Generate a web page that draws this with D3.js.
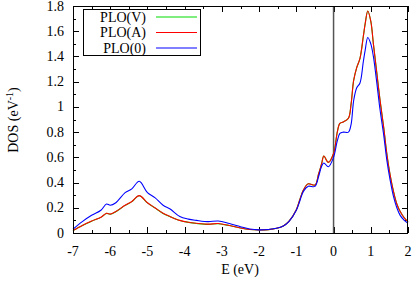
<!DOCTYPE html>
<html><head><meta charset="utf-8">
<script src="https://cdn.jsdelivr.net/npm/d3@7"></script>
<style>body{margin:0;background:#fff}svg{display:block}</style>
</head><body><svg id="c" width="415" height="281" font-family="'Liberation Serif', 'DejaVu Serif', serif"></svg>
<script>
const energy = [-7,-6.75,-6.5,-6.25,-6.1,-6.0,-5.85,-5.6,-5.42,-5.22,-5.0,-4.8,-4.58,-4.39,-4.13,-3.9,-3.68,-3.37,-3.1,-2.8,-2.5,-2.25,-2.0,-1.75,-1.53,-1.35,-1.2,-1.0,-0.9,-0.81,-0.68,-0.5,-0.4,-0.32,-0.26,-0.14,0,0.1,0.17,0.26,0.4,0.47,0.54,0.62,0.71,0.8,0.85,0.92,1.0,1.07,1.15,1.25,1.35,1.43,1.52,1.61,1.7,1.79,1.9,2.0];
const dosA = [0.02,0.06,0.095,0.125,0.156,0.15,0.17,0.22,0.25,0.296,0.24,0.20,0.156,0.13,0.10,0.085,0.077,0.07,0.075,0.06,0.04,0.028,0.024,0.027,0.037,0.056,0.092,0.185,0.27,0.34,0.39,0.38,0.47,0.55,0.61,0.56,0.63,0.80,0.87,0.88,0.91,1.02,1.21,1.31,1.385,1.56,1.66,1.76,1.68,1.50,1.30,1.05,0.83,0.63,0.46,0.33,0.23,0.17,0.12,0.09];
const dosV = [0.019,0.059,0.094,0.124,0.155,0.149,0.169,0.219,0.249,0.295,0.239,0.199,0.155,0.129,0.099,0.084,0.0755,0.0685,0.0735,0.0588,0.039,0.0275,0.024,0.027,0.037,0.056,0.092,0.185,0.27,0.34,0.39,0.38,0.47,0.55,0.61,0.56,0.63,0.80,0.87,0.88,0.91,1.02,1.21,1.31,1.385,1.56,1.66,1.76,1.68,1.50,1.30,1.05,0.83,0.63,0.46,0.33,0.23,0.17,0.12,0.09];
const dos0 = [0.03,0.09,0.14,0.18,0.23,0.22,0.24,0.32,0.35,0.41,0.32,0.28,0.22,0.19,0.13,0.11,0.10,0.09,0.095,0.075,0.05,0.032,0.025,0.028,0.037,0.055,0.09,0.18,0.26,0.33,0.37,0.37,0.45,0.53,0.555,0.525,0.60,0.73,0.79,0.80,0.80,0.86,1.05,1.15,1.19,1.36,1.45,1.55,1.50,1.40,1.22,0.975,0.77,0.58,0.42,0.29,0.20,0.14,0.10,0.077];
const xTicks = [-7,-6,-5,-4,-3,-2,-1,0,1,2];
const yTicks = [0,0.2,0.4,0.6,0.8,1,1.2,1.4,1.6,1.8];
const seriesNames = ["PLO(V)","PLO(A)","PLO(0)"];
const seriesColors = ["#00dd00","#ff0000","#0000ff"];

const svg = d3.select("#c");
const FS = 14;
const L=73,R=408,T=6,B=233;
const x = d3.scaleLinear().domain([-7,2]).range([L,R]);
const y = d3.scaleLinear().domain([0,1.8]).range([B,T]);

const g = svg.append("g").attr("stroke","#000").attr("stroke-width",1);
d3.range(-7,2.001,0.5).forEach(v=>{
  const major = Math.abs(v-Math.round(v))<1e-6;
  const len = major?6:3;
  const px = Math.round(x(v))+0.5;
  g.append("line").attr("x1",px).attr("x2",px).attr("y1",B).attr("y2",B-len);
  g.append("line").attr("x1",px).attr("x2",px).attr("y1",T).attr("y2",T+len);
});
d3.range(0,1.8001,0.1).forEach(v=>{
  const major = Math.abs(v*5-Math.round(v*5))<1e-6;
  const len = major?6:3;
  const py = Math.round(y(v))+0.5;
  g.append("line").attr("y1",py).attr("y2",py).attr("x1",L).attr("x2",L+len);
  g.append("line").attr("y1",py).attr("y2",py).attr("x1",R).attr("x2",R-len);
});

xTicks.forEach(v=>{
  svg.append("text").attr("x",x(v)).attr("y",B+23).attr("text-anchor","middle").attr("font-size",FS).text(v);
});
yTicks.forEach(v=>{
  svg.append("text").attr("x",L-9).attr("y",y(v)+4.5).attr("text-anchor","end").attr("font-size",FS).text(v);
});

svg.append("line").attr("x1",x(0)).attr("x2",x(0)).attr("y1",T).attr("y2",B).attr("stroke","#555").attr("stroke-width",1.5);

const line = d3.line().x((d,i)=>x(energy[i])).y(d=>y(d)).curve(d3.curveCatmullRom.alpha(0.5));
[dosV,dosA,dos0].forEach((s,i)=>{
  svg.append("path").datum(s).attr("d",line).attr("fill","none").attr("stroke",seriesColors[i]).attr("stroke-width",1.1);
});

svg.append("rect").attr("x",L+0.5).attr("y",T+0.5).attr("width",R-L-1).attr("height",B-T).attr("fill","none").attr("stroke","#000").attr("stroke-width",1);

svg.append("rect").attr("x",83.5).attr("y",9.5).attr("width",117).attr("height",46).attr("fill","#fff").attr("stroke","#000");
seriesNames.forEach((n,i)=>{
  const cy = 17+i*15.5;
  svg.append("text").attr("x",146).attr("y",cy+4.5).attr("text-anchor","end").attr("font-size",FS).text(n);
  svg.append("line").attr("x1",156).attr("x2",197).attr("y1",cy).attr("y2",cy).attr("stroke",seriesColors[i]).attr("stroke-width",1.1);
});

svg.append("text").attr("x",240).attr("y",274).attr("text-anchor","middle").attr("font-size",FS).text("E (eV)");
const yt = svg.append("text").attr("transform","translate(18,120) rotate(-90)").attr("text-anchor","middle").attr("font-size",FS);
yt.append("tspan").text("DOS (eV");
yt.append("tspan").attr("dy",-5).attr("font-size",10).text("-1");
yt.append("tspan").attr("dy",5).text(")");
</script></body></html>
